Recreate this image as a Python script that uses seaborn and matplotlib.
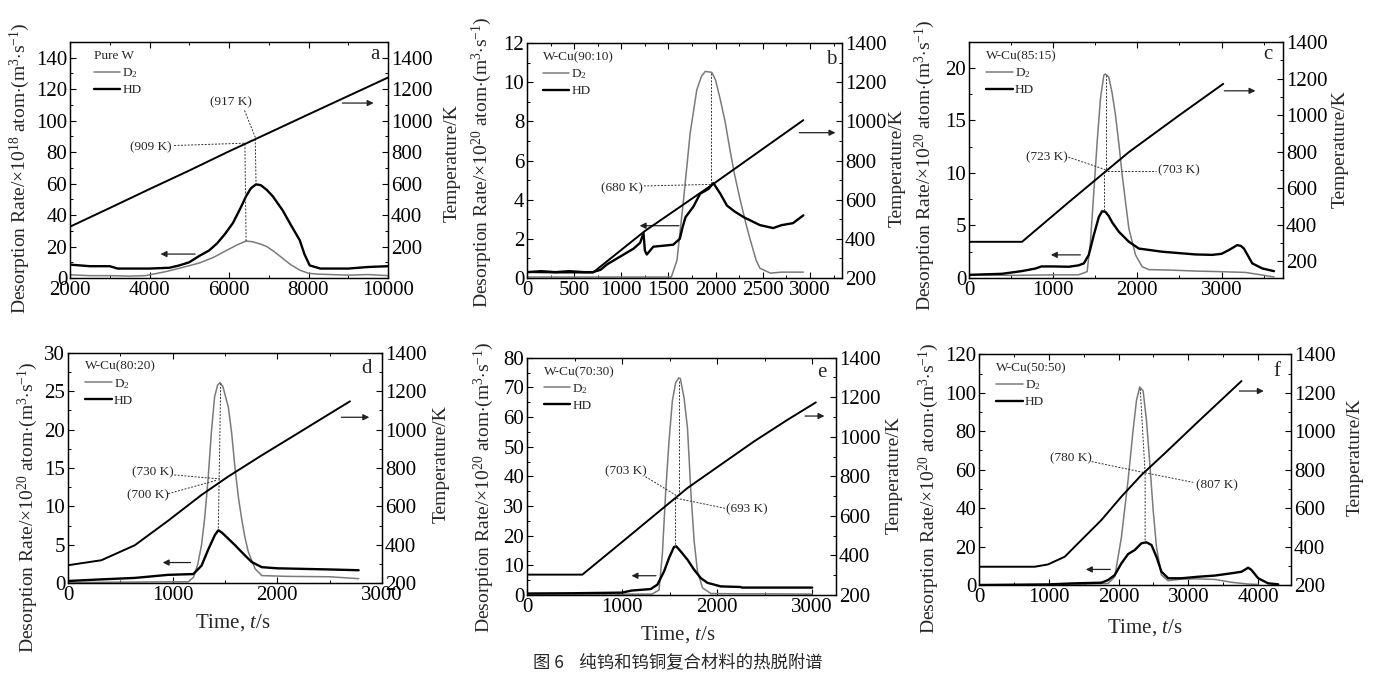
import matplotlib
matplotlib.use("Agg")
import matplotlib.pyplot as plt
import seaborn as sns
from matplotlib.ticker import MultipleLocator, FixedLocator

# ---------------- data ----------------
# Panel a: Pure W   (rate x1e18)
A_TEMP_T = [2000, 3000, 4000, 5000, 6000, 7000, 8000, 9000, 10000]
A_TEMP_K = [326, 445, 565, 683, 805, 922, 1040, 1157, 1274]
A_D2_T = [2000, 2500, 3000, 3500, 3900, 4400, 4800, 5250, 5600, 5900, 6200, 6430, 6600, 6800,
          6950, 7150, 7350, 7550, 7780, 8000, 8200, 9000, 9500, 10000]
A_D2 = [2.0, 1.5, 1.5, 1.2, 1.5, 4.0, 6.5, 9.5, 13.0, 17.0, 21.0, 23.5, 23.0, 21.5,
        20.0, 16.5, 12.5, 8.5, 5.0, 3.0, 2.5, 1.8, 2.2, 1.5]
A_HD_T = [2000, 2500, 3000, 3200, 4000, 4500, 4750, 5000, 5250, 5500, 5700, 5900, 6100, 6300,
          6430, 6550, 6680, 6800, 6950, 7100, 7350, 7550, 7780, 7900, 8030, 8300, 9000, 9500, 10000]
A_HD = [8.5, 7.5, 7.5, 6.0, 6.0, 6.5, 8.0, 10.0, 14.0, 17.5, 22.0, 28.0, 35.0, 45.0,
        52.0, 57.0, 59.5, 59.0, 56.0, 52.0, 43.0, 34.0, 24.0, 15.0, 8.0, 6.0, 6.0, 7.0, 7.5]

# Panel b: W-Cu(90:10)
B_TEMP_T = [0, 300, 700, 1250, 1960, 2930]
B_TEMP_K = [230, 228, 228, 440, 675, 1006]
B_D2_T = [0, 500, 1000, 1530, 1590, 1660, 1730, 1800, 1850, 1890, 1960, 2000, 2050, 2100, 2150,
          2200, 2260, 2320, 2370, 2430, 2470, 2580, 2700, 2930]
B_D2 = [0.05, 0.05, 0.05, 0.05, 0.9, 4.0, 7.4, 9.6, 10.3, 10.55, 10.5, 10.1, 9.1, 8.0, 6.6,
        5.3, 4.0, 2.8, 1.9, 0.9, 0.5, 0.25, 0.3, 0.3]
B_HD_T = [0, 150, 300, 450, 600, 700, 780, 850, 990, 1130, 1200, 1235, 1250, 1270, 1340, 1450,
          1550, 1620, 1650, 1680, 1765, 1835, 1925, 1976, 2050, 2120, 2200, 2300, 2470, 2610,
          2700, 2820, 2930]
B_HD = [0.3, 0.35, 0.3, 0.35, 0.3, 0.3, 0.42, 0.7, 1.1, 1.5, 1.8, 2.3, 1.4, 1.2, 1.6, 1.65,
        1.7, 2.0, 2.6, 3.1, 3.65, 4.3, 4.55, 4.85, 4.3, 3.7, 3.4, 3.1, 2.7, 2.55,
        2.7, 2.8, 3.2]

# Panel c: W-Cu(85:15)
C_TEMP_T = [0, 630, 1188, 1900, 2500, 3020]
C_TEMP_K = [307, 307, 525, 798, 1000, 1171]
C_D2_T = [0, 500, 1000, 1300, 1403, 1443, 1483, 1522, 1562, 1602, 1622, 1661, 1700, 1740, 1780,
          1820, 1860, 1899, 1978, 2057, 2136, 2400, 2691, 3000, 3286, 3484, 3623]
C_D2 = [0.3, 0.25, 0.3, 0.3, 0.6, 3.45, 8.2, 12.9, 17.1, 19.3, 19.4, 19.1, 17.6, 15.5, 12.8,
        9.8, 7.2, 4.7, 2.2, 1.07, 0.8, 0.75, 0.66, 0.6, 0.53, 0.28, 0.1]
C_HD_T = [0, 392, 622, 789, 860, 1000, 1186, 1300, 1364, 1423, 1483, 1542, 1581, 1620, 1660,
          1700, 1780, 1899, 2018, 2295, 2691, 2889, 3000, 3088, 3186, 3230, 3266, 3365, 3484, 3623]
C_HD = [0.3, 0.4, 0.65, 0.9, 1.1, 1.1, 1.07, 1.2, 1.39, 2.2, 4.1, 5.8, 6.35, 6.3, 5.9,
        5.3, 4.4, 3.45, 2.8, 2.5, 2.24, 2.2, 2.3, 2.66, 3.13, 3.05, 2.8, 1.39, 0.91, 0.65]

# Panel d: W-Cu(80:20)
D_TEMP_T = [0, 319, 638, 955, 1276, 1529, 1851, 2170, 2487, 2694]
D_TEMP_K = [294, 320, 398, 525, 660, 755, 866, 972, 1078, 1147]
D_D2_T = [0, 500, 1000, 1150, 1200, 1240, 1276, 1306, 1338, 1369, 1401, 1430, 1452, 1480, 1532,
          1564, 1596, 1630, 1659, 1690, 1723, 1787, 1851, 2100, 2500, 2777]
D_D2 = [0.1, 0.15, 0.2, 0.2, 0.8, 2.5, 5.0, 8.5, 13.5, 19.5, 24.3, 25.8, 26.1, 25.6, 22.9,
        19.5, 14.9, 11.0, 8.4, 6.0, 4.07, 1.9, 1.0, 0.9, 0.85, 0.6]
D_HD_T = [0, 300, 638, 957, 1197, 1276, 1340, 1404, 1436, 1470, 1532, 1600, 1659, 1700, 1755,
          1851, 2000, 2170, 2500, 2777]
D_HD = [0.3, 0.5, 0.7, 1.1, 1.2, 2.3, 4.4, 6.3, 6.9, 6.6, 5.8, 4.9, 4.07, 3.5, 2.77,
        2.1, 1.95, 1.9, 1.8, 1.7]

# Panel e: W-Cu(70:30)
E_TEMP_T = [0, 582, 1000, 1400, 1688, 2038, 2389, 2740, 3038]
E_TEMP_K = [303, 303, 468, 627, 741, 859, 977, 1086, 1174]
E_D2_T = [0, 500, 1000, 1316, 1389, 1424, 1459, 1494, 1529, 1564, 1597, 1613, 1652, 1688, 1723,
          1758, 1793, 1846, 1933, 2200, 2600, 3000]
E_D2 = [0.2, 0.3, 0.3, 0.3, 1.7, 14.0, 35.0, 52.0, 65.5, 71.6, 73.2, 73.0, 66.4, 56.3, 35.0,
        18.1, 8.0, 2.4, 0.5, 0.4, 0.4, 0.3]
E_HD_T = [0, 500, 1000, 1100, 1300, 1372, 1442, 1494, 1546, 1570, 1617, 1688, 1758, 1828, 1898,
          2038, 2248, 2260, 2600, 3000]
E_HD = [0.5, 0.6, 0.8, 1.5, 2.0, 3.5, 8.0, 12.5, 16.2, 16.4, 14.7, 11.9, 8.5, 5.7, 4.1,
        2.9, 2.7, 2.5, 2.5, 2.5]

# Panel f: W-Cu(50:50)
F_TEMP_T = [0, 798, 989, 1228, 1467, 1754, 2041, 2327, 2662, 3140, 3761]
F_TEMP_K = [295, 295, 307, 347, 434, 538, 660, 772, 885, 1050, 1261]
F_D2_T = [0, 1000, 1500, 1850, 1945, 2041, 2136, 2208, 2256, 2303, 2351, 2399, 2447, 2495, 2542,
          2614, 2710, 2901, 3100, 3379, 3618, 3857, 4000]
F_D2 = [0.0, 0.2, 0.5, 0.8, 4.3, 25.0, 54.6, 80.6, 96.0, 103.0, 101.0, 85.8, 63.3, 39.0, 19.9,
        5.2, 2.25, 3.1, 3.2, 2.9, 1.4, 0.5, 0.3]
F_HD_T = [0, 989, 1372, 1754, 1850, 1945, 2041, 2136, 2232, 2327, 2399, 2471, 2542, 2614, 2710,
          2901, 3140, 3379, 3618, 3761, 3857, 3904, 4000, 4143, 4287]
F_HD = [0.0, 0.3, 0.87, 1.2, 2.6, 5.2, 11.3, 16.1, 18.2, 21.7, 22.2, 20.8, 14.7, 6.9, 3.5,
        3.5, 4.3, 4.9, 6.1, 6.9, 9.0, 7.8, 3.5, 0.87, 0.35]

TITLES = ["Pure W", "W-Cu(90:10)", "W-Cu(85:15)", "W-Cu(80:20)", "W-Cu(70:30)", "W-Cu(50:50)"]
LETTERS = ["a", "b", "c", "d", "e", "f"]
SERIES_LABELS = ["D$_2$", "HD"]

# ---------------- styling ----------------
sns.set_theme(style="ticks")
plt.rcParams.update({
    "font.family": ["Liberation Serif", "DejaVu Serif"],
    "mathtext.fontset": "custom",
    "mathtext.rm": "Liberation Serif",
    "mathtext.it": "Liberation Serif:italic",
    "mathtext.bf": "Liberation Serif:bold",
    "axes.linewidth": 0.9,
    "axes.edgecolor": "black",
    "xtick.color": "black",
    "ytick.color": "black",
})

W, H = 1374, 679
fig = plt.figure(figsize=(W / 100, H / 100), dpi=100)
GRAY = "#7a7a7a"


def box(l, r, t, b):
    return [l / W, 1 - b / H, (r - l) / W, (b - t) / H]


def panel(rect, xlim, xmaj, xmin, ylim, ymaj, ymin, y2lim, y2ticks,
          tt, tk, d2t, d2, hdt, hd, title, letter, letter_xy, leg_xy,
          notes, segs, larrow, rarrow):
    ax = fig.add_axes(rect)
    ax2 = ax.twinx()
    sns.lineplot(x=d2t, y=d2, ax=ax, color=GRAY, lw=1.1, estimator=None, sort=False)
    h_d2 = ax.lines[-1]
    sns.lineplot(x=hdt, y=hd, ax=ax, color="black", lw=1.7, estimator=None, sort=False)
    h_hd = ax.lines[-1]
    sns.lineplot(x=tt, y=tk, ax=ax2, color="black", lw=1.4, estimator=None, sort=False)
    ax.set_xlim(xlim)
    ax.set_ylim(ylim)
    ax2.set_ylim(y2lim)
    ax.set_xlabel("")
    ax.set_ylabel("")
    ax2.set_ylabel("")
    ax.xaxis.set_major_locator(MultipleLocator(xmaj))
    ax.xaxis.set_minor_locator(MultipleLocator(xmin))
    ax.yaxis.set_major_locator(MultipleLocator(ymaj))
    ax.yaxis.set_minor_locator(MultipleLocator(ymin))
    ax2.yaxis.set_major_locator(FixedLocator(y2ticks))
    ax2.yaxis.set_minor_locator(MultipleLocator(100))
    ax.tick_params(axis="both", which="major", labelsize=15, length=4, width=0.8,
                   direction="in", top=True, right=False, pad=2)
    ax.tick_params(axis="both", which="minor", length=2.3, width=0.7,
                   direction="in", top=True, right=False)
    ax2.tick_params(axis="y", which="major", labelsize=15, length=4, width=0.8,
                    direction="in", pad=2)
    ax2.tick_params(axis="y", which="minor", length=2.3, width=0.7, direction="in")
    for sp in ax.spines.values():
        sp.set_visible(True)
    for sp in ax2.spines.values():
        sp.set_visible(True)

    leg = ax.legend(handles=[h_d2, h_hd], labels=SERIES_LABELS, title=title,
                    loc="upper left", bbox_to_anchor=leg_xy, frameon=False,
                    fontsize=9.5, title_fontsize=9.5, handlelength=2.0,
                    handletextpad=0.15, labelspacing=0.3, borderpad=0, borderaxespad=0)
    leg._legend_box.align = "left"

    ax.text(letter_xy[0], letter_xy[1], letter, transform=ax.transAxes,
            fontsize=15, ha="center", va="center")

    for txt, x, y in notes:
        ax.text(x, y, txt, fontsize=9.5, ha="center", va="center")
    for xs, ys in segs:
        ax.plot(xs, ys, color="#333333", lw=0.7, ls=(0, (2, 1.5)))

    x0, x1, y = larrow
    ax.annotate("", xy=(x1, y), xytext=(x0, y),
                arrowprops=dict(arrowstyle="-|>", color="#222222", lw=0.9, mutation_scale=9))
    x0, x1, y = rarrow
    ax2.annotate("", xy=(x1, y), xytext=(x0, y),
                 arrowprops=dict(arrowstyle="-|>", color="#222222", lw=0.9, mutation_scale=9))
    return ax, ax2


RT = [200, 400, 600, 800, 1000, 1200, 1400]

# a
panel(box(70, 388, 42, 278), (2000, 10000), 2000, 1000, (0, 150), 20, 10, (0, 1500), RT,
      A_TEMP_T, A_TEMP_K, A_D2_T, A_D2, A_HD_T, A_HD, TITLES[0], LETTERS[0], (0.959, 0.945),
      (0.075, 0.965),
      [("(917 K)", 6055, 111.6), ("(909 K)", 4040, 83.2)],
      [([6390, 6660, 6680], [106.5, 89.5, 59.5]),
       ([4620, 6400, 6430], [84.2, 85.7, 23.5])],
      (5216, 4208, 15.2), (8784, 9708, 1112))
# b
panel(box(527, 842, 43, 278), (0, 3340), 500, 250, (0, 12), 2, 1, (200, 1400), RT,
      B_TEMP_T, B_TEMP_K, B_D2_T, B_D2, B_HD_T, B_HD, TITLES[1], LETTERS[1], (0.967, 0.928),
      (0.05, 0.965),
      [("(680 K)", 1006, 4.58)],
      [([1240, 1948], [4.7, 4.78]),
       ([1948, 1948], [10.45, 4.78])],
      (1641, 1165, 2.67), (2859, 3300, 942))
# c
panel(box(969, 1283, 42, 278), (0, 3730), 1000, 500, (0, 22.45), 5, 2.5, (109, 1400), RT,
      C_TEMP_T, C_TEMP_K, C_D2_T, C_D2, C_HD_T, C_HD, TITLES[2], LETTERS[2], (0.953, 0.945),
      (0.055, 0.965),
      [("(723 K)", 927, 11.5), ("(703 K)", 2493, 10.25)],
      [([1180, 1622], [11.5, 10.3]),
       ([1600, 2216], [10.22, 10.22]),
       ([1630, 1630], [19.3, 10.3]),
       ([1600, 1600], [10.2, 6.4])],
      (1356, 939, 2.2), (3000, 3436, 1133))
# d
panel(box(68, 382, 352.7, 583.3), (0, 3000), 1000, 500, (0, 30), 5, 2.5, (200, 1400), RT,
      D_TEMP_T, D_TEMP_K, D_D2_T, D_D2, D_HD_T, D_HD, TITLES[3], LETTERS[3], (0.951, 0.932),
      (0.055, 0.965),
      [("(730 K)", 814, 14.5), ("(700 K)", 763, 11.5)],
      [([1015, 1340, 1452], [14.1, 13.7, 13.6]),
       ([957, 1419], [11.66, 13.4]),
       ([1459, 1436], [26.0, 6.9])],
      (1197, 878, 2.7), (2585, 2905, 1064))
# e
panel(box(527, 836, 357.7, 595), (0, 3250), 1000, 500, (0, 80), 10, 5, (200, 1400), RT,
      E_TEMP_T, E_TEMP_K, E_D2_T, E_D2, E_HD_T, E_HD, TITLES[4], LETTERS[4], (0.954, 0.937),
      (0.055, 0.965),
      [("(703 K)", 1035, 41.6), ("(693 K)", 2309, 29.0)],
      [([1246, 1572], [39.9, 33.5]),
       ([1572, 2088], [32.6, 29.2]),
       ([1597, 1597], [72.0, 33.5]),
       ([1560, 1560], [32.6, 16.0])],
      (1386, 1070, 6.5), (2895, 3158, 1105))
# f
panel(box(979, 1291, 354.3, 585), (0, 4470), 1000, 500, (0, 120), 20, 10, (200, 1400), RT,
      F_TEMP_T, F_TEMP_K, F_D2_T, F_D2, F_HD_T, F_HD, TITLES[5], LETTERS[5], (0.954, 0.925),
      (0.055, 0.965),
      [("(780 K)", 1314, 65.9), ("(807 K)", 3403, 52.0)],
      [([1614, 2375, 3068], [64.2, 58.4, 53.4]),
       ([2310, 2380, 2380], [102.0, 58.0, 22.2])],
      (1921, 1491, 8.1), (3690, 4120, 1209))

# axis titles
YL18 = "Desorption Rate/$\\times$10$^{18}$ atom$\\cdot$(m$^3$$\\cdot$s$^{-1}$)"
YL20 = "Desorption Rate/$\\times$10$^{20}$ atom$\\cdot$(m$^3$$\\cdot$s$^{-1}$)"
for (x, y), lab in zip([(20, 168), (482, 162), (925, 165), (28, 507), (484, 487), (929, 488)],
                       [YL18, YL20, YL20, YL20, YL20, YL20]):
    fig.text(x / W, 1 - y / H, lab, rotation=90, ha="center", va="center", fontsize=14)
for x, y in [(452, 163), (897, 168), (1340, 149), (441, 464), (894, 475), (1355, 457)]:
    fig.text(x / W, 1 - y / H, "Temperature/K", rotation=90, ha="center", va="center", fontsize=14)
for x, y in [(233, 623), (678, 635), (1145, 628)]:
    fig.text(x / W, 1 - y / H, "Time, $t$/s", ha="center", va="center", fontsize=15)

fig.text(678 / W, 1 - 662 / H, "图 6    纯钨和钨铜复合材料的热脱附谱", ha="center", va="center",
         fontsize=12.5, family=["Noto Sans CJK SC", "DejaVu Sans"])

fig.savefig("out.png", dpi=100, facecolor="white")
